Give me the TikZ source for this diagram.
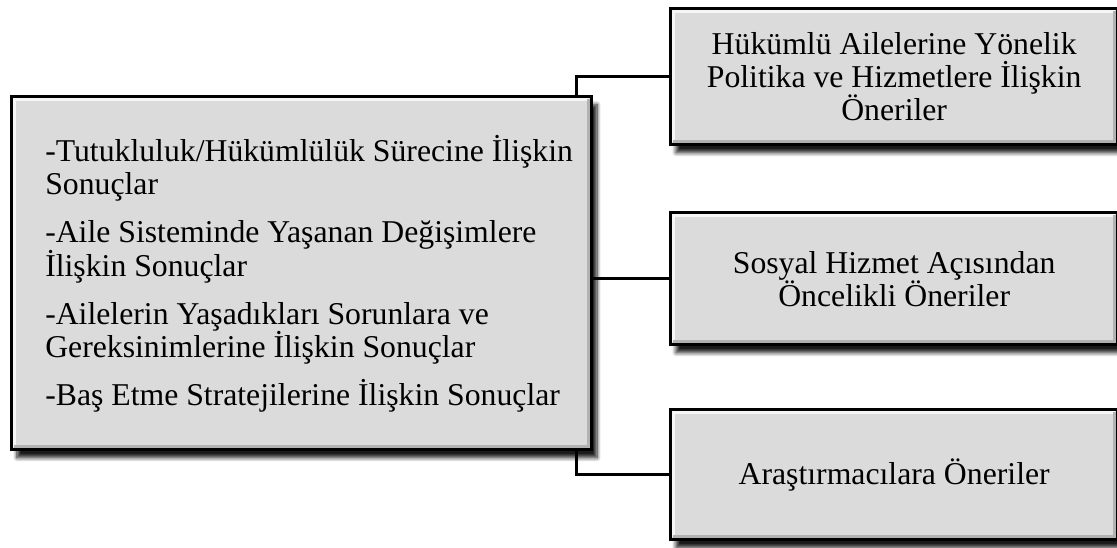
\documentclass[tikz,border=0pt]{standalone}
\usepackage{fontspec}
\setmainfont{Liberation Serif}
\usepackage{tikz}
\usetikzlibrary{positioning, shadows, shadows.blur}
\definecolor{kutugri}{RGB}{220, 219, 220}
\tikzset{
  kutu/.style={draw=black, line width=2.5pt, fill=kutugri, inner sep=0pt,
    blur shadow={shadow xshift=4pt, shadow yshift=-6pt, shadow blur radius=3pt,
      shadow blur steps=8, shadow opacity=90},
    path picture={
      \draw[white!75!kutugri, line width=3pt]
        ([shift={(2pt,2pt)}]path picture bounding box.south west) |- ([shift={(-2pt,-2pt)}]path picture bounding box.north east);
      \draw[gray!60, line width=3pt]
        ([shift={(2pt,2pt)}]path picture bounding box.south west) -| ([shift={(-2pt,-2pt)}]path picture bounding box.north east);
    },
    font=\fontsize{23.8pt}{24.75pt}\selectfont},
  yazi/.style={inner sep=0pt, align=left, font=\fontsize{23.8pt}{24.75pt}\selectfont},
  baglanti/.style={line width=2.2pt}
}

\begin{document}
\begin{tikzpicture}[x=0.75pt, y=-0.75pt]
\useasboundingbox (0,0) rectangle (1117,548);
% sonuclar
\node[kutu, anchor=north west, minimum width=435pt, minimum height=264.75pt] (sonuc) at (10,95) {};
\node[yazi, anchor=west] (sonucyazi) at (45,274)
  {-Tutukluluk/Hükümlülük Sürecine İlişkin\\ Sonuçlar\\[11.25pt]
   -Aile Sisteminde Yaşanan Değişimlere\\ İlişkin Sonuçlar\\[11.25pt]
   -Ailelerin Yaşadıkları Sorunlara ve\\ Gereksinimlerine İlişkin Sonuçlar\\[11.25pt]
   -Baş Etme Stratejilerine İlişkin Sonuçlar};
% oneriler
\node[kutu, anchor=north west, minimum width=335.25pt, minimum height=102pt, align=center] (oneri1) at (669,7)
  {Hükümlü Ailelerine Yönelik\\ Politika ve Hizmetlere İlişkin\\ Öneriler};
\node[kutu, anchor=north west, minimum width=335.25pt, minimum height=99pt, align=center] (oneri2) at (669,211)
  {Sosyal Hizmet Açısından\\ Öncelikli Öneriler};
\node[kutu, anchor=north west, minimum width=335.25pt, minimum height=97.5pt, align=center] (oneri3) at (669,408)
  {Araştırmacılara Öneriler};
% baglantilar
\draw[baglanti] ([xshift=-12.75pt]sonuc.north east) |- (oneri1.west);
\draw[baglanti] (sonuc.east |- oneri2.west) -- (oneri2.west);
\draw[baglanti] ([xshift=-12.75pt]sonuc.south east) |- (oneri3.west);
\end{tikzpicture}
\end{document}
